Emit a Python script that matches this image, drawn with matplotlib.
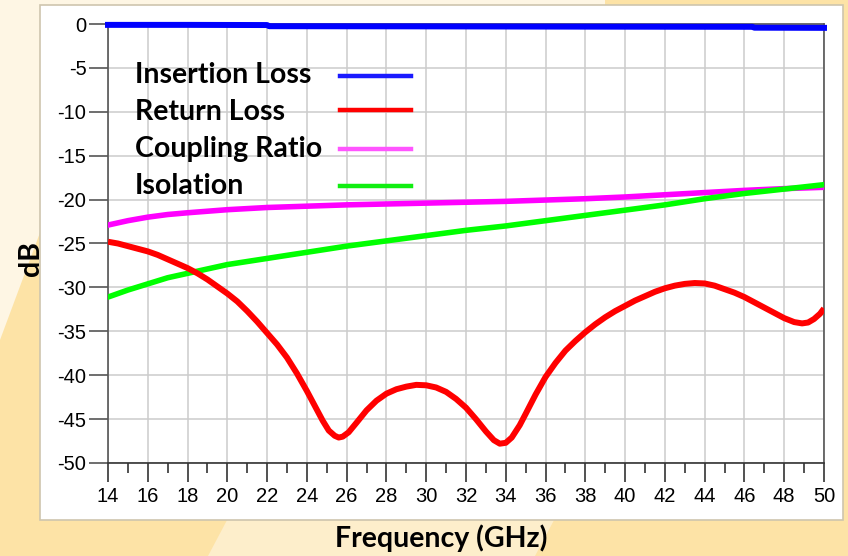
import matplotlib
matplotlib.use("Agg")
import matplotlib.pyplot as plt
from matplotlib.patches import Polygon, Rectangle
from matplotlib.lines import Line2D
from matplotlib.ticker import MultipleLocator

plt.rcParams["axes.unicode_minus"] = False

# Frequency points (GHz) and the four S-parameter traces (dB)
freq_il = [14, 18, 22, 22.1, 30, 38, 46.4, 46.5, 50]
insertion_loss = [-0.1, -0.1, -0.12, -0.25, -0.27, -0.3, -0.32, -0.42, -0.44]

freq_rl = [14, 14.5, 15, 15.5, 16, 16.5, 17, 17.5, 18, 18.5, 19, 19.5, 20,
           20.5, 21, 21.5, 22, 22.5, 23, 23.5, 24, 24.4, 24.8, 25.1, 25.4,
           25.6, 25.8, 26.1, 26.5, 27, 27.5, 28, 28.5, 29, 29.5, 30, 30.5, 31,
           31.5, 32, 32.5, 33, 33.4, 33.7, 34, 34.3, 34.7, 35, 35.5, 36, 36.5,
           37, 37.5, 38, 38.5, 39, 39.5, 40, 40.5, 41, 41.5, 42, 42.5, 43,
           43.5, 44, 44.5, 45, 45.5, 46, 46.5, 47, 47.5, 48, 48.5, 48.9, 49.2,
           49.5, 49.8, 50]
return_loss = [-24.8, -25.0, -25.3, -25.6, -25.9, -26.3, -26.8, -27.3, -27.8,
               -28.4, -29.1, -29.9, -30.7, -31.6, -32.7, -33.9, -35.2, -36.5,
               -38.0, -39.8, -41.8, -43.5, -45.2, -46.3, -46.9, -47.1, -47.0,
               -46.5, -45.4, -44.0, -42.9, -42.1, -41.6, -41.3, -41.1, -41.15,
               -41.4, -41.9, -42.7, -43.7, -45.0, -46.4, -47.4, -47.8, -47.7,
               -47.1, -45.7, -44.4, -42.2, -40.2, -38.6, -37.2, -36.1, -35.1,
               -34.2, -33.4, -32.7, -32.1, -31.5, -31.0, -30.5, -30.1, -29.8,
               -29.6, -29.5, -29.55, -29.8, -30.2, -30.6, -31.1, -31.7, -32.3,
               -32.9, -33.5, -33.95, -34.1, -34.0, -33.6, -33.0, -32.4]

freq = [14, 15, 16, 17, 18, 20, 22, 24, 26, 28, 30, 32, 34, 36, 38, 40, 42,
        44, 46, 48, 50]
coupling = [-22.9, -22.4, -22.0, -21.7, -21.5, -21.15, -20.9, -20.75, -20.6,
            -20.5, -20.4, -20.3, -20.2, -20.05, -19.9, -19.7, -19.45, -19.2,
            -18.95, -18.75, -18.6]
isolation = [-31.1, -30.3, -29.6, -28.9, -28.4, -27.4, -26.7, -26.0, -25.3,
             -24.7, -24.1, -23.5, -23.0, -22.4, -21.8, -21.2, -20.6, -19.9,
             -19.3, -18.8, -18.3]

labels = ["Insertion Loss", "Return Loss", "Coupling Ratio", "Isolation"]
colors = ["#0000FF", "#FF0000", "#FF00FF", "#00FF00"]
legend_colors = ["#1A1AFF", "#FF0000", "#FF55FF", "#11EE11"]

W, H = 848, 556
fig = plt.figure(figsize=(W / 100, H / 100), dpi=100, facecolor="#FDE3A6")


# background shapes, given in pixel coords (y from top)
def px(points):
    return [(x / W, 1 - y / H) for x, y in points]


fig.patches.append(Polygon(px([(0, 0), (605, 0), (605, 10), (60, 10), (60, 179), (0, 340)]),
                           closed=True, transform=fig.transFigure, facecolor="#FEF6E4",
                           edgecolor="none", zorder=0))
fig.patches.append(Polygon(px([(208, 556), (535, 556), (570, 490), (243, 490)]),
                           closed=True, transform=fig.transFigure, facecolor="#FDEECB",
                           edgecolor="none", zorder=0))
# white chart panel
fig.patches.append(Rectangle((40 / W, 1 - 520 / H), 803 / W, 515 / H,
                             transform=fig.transFigure, facecolor="white",
                             edgecolor="#CEC5AE", linewidth=1.2, zorder=1))

ax = fig.add_axes([108 / W, 1 - 463 / H, 716 / W, 439 / H])
ax.set_facecolor("white")
ax.set_zorder(2)

ax.plot(freq_il, insertion_loss, color=colors[0], lw=4.3, clip_on=False, zorder=5)
ax.plot(freq_rl, return_loss, color=colors[1], lw=4.3, zorder=4,
        solid_joinstyle="round", solid_capstyle="butt")
ax.plot(freq, coupling, color=colors[2], lw=4.0, zorder=3, solid_joinstyle="round")
ax.plot(freq, isolation, color=colors[3], lw=4.0, zorder=3, solid_joinstyle="round")

ax.set_xlim(14, 50)
ax.set_ylim(-50, 0)
ax.xaxis.set_major_locator(MultipleLocator(2))
ax.xaxis.set_minor_locator(MultipleLocator(1))
ax.yaxis.set_major_locator(MultipleLocator(5))
ax.grid(True, which="major", color="#CCCCCC", lw=1.1)
ax.set_axisbelow(True)

for s in ax.spines.values():
    s.set_color("#555555")
    s.set_linewidth(1.2)
ax.spines["bottom"].set_color("#333333")

ax.tick_params(axis="x", which="major", direction="out", length=13.5, width=1.2,
               color="#333333", pad=4)
ax.tick_params(axis="x", which="minor", direction="out", length=7, width=1.2, color="#333333")
ax.tick_params(axis="y", direction="out", length=13.5, width=1.2, color="#555555", pad=2)
for lab in ax.get_xticklabels() + ax.get_yticklabels():
    lab.set_fontfamily("Liberation Sans")
    lab.set_fontsize(14.5)

# legend: bold labels on the left, short line samples in one column to the right
baselines = [83, 120, 157, 194]
line_ys = [76, 110, 149, 186]
for lab, c, yb, yl in zip(labels, legend_colors, baselines, line_ys):
    fig.text(135 / W, 1 - yb / H, lab, ha="left", va="baseline",
             family="Lato", weight="bold", fontsize=20.5, zorder=3)
    fig.add_artist(Line2D([340 / W, 411 / W], [1 - yl / H, 1 - yl / H],
                          transform=fig.transFigure, color=c, lw=3.2, zorder=3))

fig.text(441 / W, 1 - 538 / H, "Frequency (GHz)", ha="center", va="center",
         family="Lato", weight="bold", fontsize=20.5, zorder=3)
fig.text(31 / W, 1 - 258 / H, "dB", ha="center", va="center", rotation=90,
         family="Lato", weight="bold", fontsize=20.5, zorder=3)

fig.savefig("out.png", dpi=100, facecolor=fig.get_facecolor())
